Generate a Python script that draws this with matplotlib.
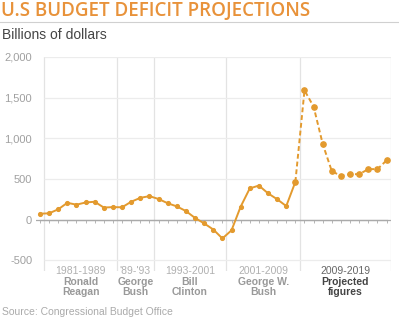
import numpy as np
import matplotlib
matplotlib.use("Agg")
import matplotlib.pyplot as plt

# budget deficit, billions of dollars (1980-2008 actual, 2008-2018 projected)
years = list(range(1980, 2019))
deficit = [74, 79, 128, 208, 185, 212, 221, 150, 155, 153,
           221, 269, 290, 255, 203, 164, 107, 22, -45, -120,
           -230, -130, 160, 385, 420, 325, 252, 168, 465,
           1590, 1390, 930, 595, 540, 560, 560, 622, 622, 730]
last_actual = 2008

# term boundaries and labels
bounds = [1980.45, 1988.45, 1992.45, 2000.45, 2008.5, 2018.45]
terms = ['1981-1989', "'89-'93", '1993-2001', '2001-2009', '2009-2019']
names = ['Ronald\nReagan', 'George\nBush', 'Bill\nClinton', 'George W.\nBush', 'Projected\nfigures']
yticks = [-500, 0, 500, 1000, 1500, 2000]
ylabels = ['-500', '0', '500', '1,000', '1,500', '2,000']

orange = '#E39A2E'
plt.rcParams['font.family'] = ['Liberation Sans', 'DejaVu Sans']

fig = plt.figure(figsize=(3.99, 3.21), dpi=100)
W, H = 399, 321
ax = fig.add_axes([36.3 / W, (H - 271) / H, (390.7 - 36.3) / W, (271 - 57) / H])
ax.set_xlim(1979.6, 2018.45)
ax.set_ylim(-630, 2000)
for s in ax.spines.values():
    s.set_visible(False)

# grid
for b in bounds:
    ax.axvline(b, color='#e3e3e3', lw=0.9, zorder=0)
for t in yticks:
    if t != 0:
        ax.hlines(t, bounds[0], bounds[-1], color='#ececec', lw=0.9, zorder=0)
ax.plot(years, np.zeros(len(years)), color='#aaaaaa', lw=0.9, marker=3,
        markersize=2.5, markeredgewidth=0.6, zorder=1)
ax.axhline(0, color='#aaaaaa', lw=0.9, zorder=1)

i = years.index(last_actual)
ax.plot(years[:i + 1], deficit[:i + 1], color=orange, lw=1.4, marker='o',
        markersize=2.7, zorder=3)
ax.plot(years[i:], deficit[i:], color=orange, lw=1.4, ls=(0, (2.5, 1.5)),
        marker='o', markersize=3.8, zorder=3)

ax.set_xticks([])
ax.set_yticks(yticks)
ax.set_yticklabels(ylabels, color='#a0a0a0', fontsize=8)
ax.tick_params(axis='y', length=0, pad=3)

tr = ax.get_xaxis_transform()
for k in range(len(terms)):
    xc = (bounds[k] + bounds[k + 1]) / 2
    last = k == len(terms) - 1
    ax.text(xc, 0.0, terms[k], transform=tr, ha='center', va='center',
            fontsize=7.5, color='#666666' if last else '#b0b0b0')
    ax.text(xc, -0.076, names[k], transform=tr, ha='center', va='center',
            fontsize=7.5, fontweight='bold', linespacing=1.05,
            color='#444444' if last else '#999999')

fig.text(1 / W, 1 - 11 / H, 'U.S BUDGET DEFICIT PROJECTIONS', color='#E8923A',
         fontsize=13.5, fontweight='semibold', family='Open Sans', va='center')
fig.add_artist(plt.Line2D([0, 1], [1 - 22 / H, 1 - 22 / H], color='#d0d0d0', lw=0.8))
fig.text(2 / W, 1 - 35 / H, 'Billions of dollars', color='#444444', fontsize=10,
         va='center')
fig.text(2 / W, 1 - 312 / H, 'Source: Congressional Budget Office', color='#aaaaaa',
         fontsize=7.5, va='center')

fig.savefig('out.png', dpi=100)
